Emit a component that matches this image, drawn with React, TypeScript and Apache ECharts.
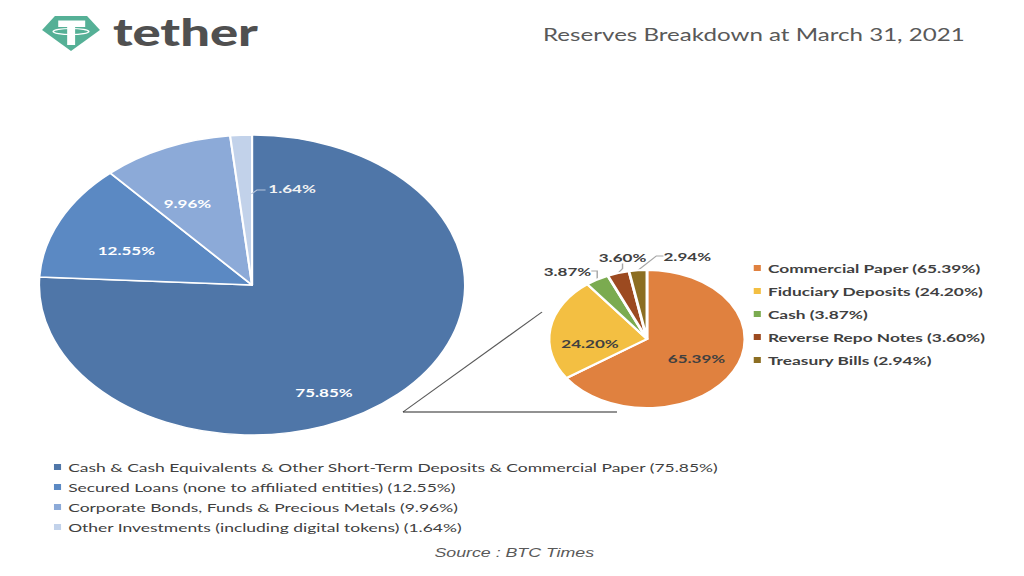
import React, { useEffect, useRef } from "react";
import * as echarts from "echarts";

// ---------- data ----------
const reserveNames = [
  "Cash & Cash Equivalents & Other Short-Term Deposits & Commercial Paper",
  "Secured Loans (none to affiliated entities)",
  "Corporate Bonds, Funds & Precious Metals",
  "Other Investments (including digital tokens)",
];
const reserveValues = [75.85, 12.55, 9.96, 1.64];

const cashNames = [
  "Commercial Paper",
  "Fiduciary Deposits",
  "Cash",
  "Reverse Repo Notes",
  "Treasury Bills",
];
const cashValues = [65.39, 24.2, 3.87, 3.6, 2.94];

const titleText = "Reserves Breakdown at March 31, 2021";
const sourceText = "Source : BTC Times";
const brandText = "tether";

// ---------- styles / layout ----------
const SX = 1.42; // the reference is horizontally stretched
const INNER_W = Math.round(1024 / SX);
const H = 576;

const reserveColors = ["#4F76A8", "#5B89C3", "#8CAAD8", "#C2D2EA"];
const cashColors = ["#E0813F", "#F3BF42", "#7BAB50", "#9C4A20", "#8C6E22"];

const BIG_C = [177.5, 285];
const BIG_R = 150;
const SMALL_C = [455.6, 339];
const SMALL_R = 69;

// label anchor offsets relative to each pie centre
const bigLabelOffsets = [
  [50.7, 107],
  [-88.5, -35],
  [-45.5, -82],
  [28.2, -97],
];
const smallLabelOffsets = [
  [34.9, 19],
  [-40.1, 4],
  [-56, -68],
  [-17.2, -81.5],
  [28.4, -83],
];
// short leader for the thin 1.64% slice, relative to the big pie centre
const thinSliceLeader = [
  [-0.5, -91],
  [3.5, -95],
  [9.5, -95],
];

const FONT = "Lato, 'Open Sans', sans-serif";

export default function App() {
  const ref = useRef<HTMLDivElement>(null);

  useEffect(() => {
    if (!ref.current) return;
    const chart = echarts.init(ref.current, null, { renderer: "svg" });

    const valueOf: Record<string, number> = {};
    reserveNames.forEach((n, i) => (valueOf[n] = reserveValues[i]));
    cashNames.forEach((n, i) => (valueOf[n] = cashValues[i]));
    const legendFmt = (name: string) => `${name} (${valueOf[name].toFixed(2)}%)`;
    const pctFmt = (p: any) => `${Number(p.value).toFixed(2)}%`;

    const bigData = reserveNames.map((name, i) => ({
      name,
      value: reserveValues[i],
      itemStyle: { color: reserveColors[i] },
      label: { color: i === 3 ? "#F2F2F2" : "#FFFFFF" },
    }));

    const smallData = cashNames.map((name, i) => {
      const outside = i >= 2;
      return {
        name,
        value: cashValues[i],
        itemStyle: { color: cashColors[i] },
        label: { position: outside ? "outside" : "inside" },
        labelLine: {
          show: outside,
          length: 5,
          length2: 5,
          lineStyle: { color: "#A6A6A6", width: 1 },
        },
      };
    });

    const legendBase = {
      orient: "vertical",
      icon: "rect",
      itemWidth: 5,
      itemHeight: 6,
      padding: 0,
      selectedMode: false,
      formatter: legendFmt,
      itemStyle: { borderWidth: 0 },
    };

    const option: any = {
      animation: false,
      backgroundColor: "#FFFFFF",
      legend: [
        {
          ...legendBase,
          data: reserveNames,
          left: 38,
          top: 460,
          itemGap: 6,
          textStyle: {
            fontFamily: FONT,
            fontSize: 12.3,
            lineHeight: 14,
            color: "#404040",
          },
        },
        {
          ...legendBase,
          data: cashNames,
          left: 530.8,
          top: 261,
          itemGap: 9,
          textStyle: {
            fontFamily: FONT,
            fontSize: 12.2,
            fontWeight: "bold",
            lineHeight: 14,
            color: "#404040",
          },
        },
      ],
      series: [
        {
          type: "pie",
          center: BIG_C,
          radius: BIG_R,
          startAngle: 90,
          clockwise: true,
          avoidLabelOverlap: false,
          itemStyle: { borderColor: "#FFFFFF", borderWidth: 1.5 },
          label: {
            show: true,
            position: "inside",
            formatter: pctFmt,
            fontFamily: FONT,
            fontSize: 12,
            fontWeight: "bold",
          },
          labelLine: { show: false },
          emphasis: { disabled: true },
          labelLayout: (p: any) => {
            const o = bigLabelOffsets[p.dataIndex];
            return {
              x: BIG_C[0] + o[0],
              y: BIG_C[1] + o[1],
              align: "center",
              verticalAlign: "middle",
            };
          },
          data: bigData,
        },
        {
          type: "pie",
          center: SMALL_C,
          radius: SMALL_R,
          startAngle: 90,
          clockwise: true,
          avoidLabelOverlap: false,
          itemStyle: { borderColor: "#FFFFFF", borderWidth: 2 },
          label: {
            show: true,
            formatter: pctFmt,
            fontFamily: FONT,
            fontSize: 12,
            fontWeight: "bold",
            color: "#404040",
          },
          emphasis: { disabled: true },
          labelLayout: (p: any) => {
            const o = smallLabelOffsets[p.dataIndex];
            return {
              x: SMALL_C[0] + o[0],
              y: SMALL_C[1] + o[1],
              align: "center",
              verticalAlign: "middle",
            };
          },
          data: smallData,
        },
      ],
      graphic: [
        // logo mark
        {
          type: "polygon",
          shape: {
            points: [
              [38.7, 16],
              [61.3, 16],
              [70.4, 30],
              [50, 51],
              [29.6, 30],
            ],
          },
          style: { fill: "#55B096" },
        },
        {
          type: "rect",
          shape: { x: 41, y: 20.5, width: 19, height: 6.5 },
          style: { fill: "#FFFFFF" },
        },
        {
          type: "rect",
          shape: { x: 47.3, y: 26, width: 5.6, height: 19 },
          style: { fill: "#FFFFFF" },
        },
        {
          type: "ellipse",
          shape: { cx: 50, cy: 31.5, rx: 12.5, ry: 3 },
          style: { fill: "none", stroke: "#FFFFFF", lineWidth: 1.2 },
        },
        {
          type: "text",
          x: 79.5,
          y: 32,
          style: {
            text: brandText,
            fontFamily: FONT,
            fontSize: 37,
            fontWeight: 900,
            fill: "#505050",
            verticalAlign: "middle",
            align: "left",
          },
        },
        {
          type: "text",
          x: 382.4,
          y: 34,
          style: {
            text: titleText,
            fontFamily: FONT,
            fontSize: 17,
            fill: "#595959",
            verticalAlign: "middle",
            align: "left",
          },
        },
        {
          type: "text",
          x: 306,
          y: 553,
          style: {
            text: sourceText,
            fontFamily: "'Liberation Sans', Arial, sans-serif",
            fontSize: 12.5,
            fontStyle: "italic",
            fill: "#595959",
            verticalAlign: "middle",
            align: "left",
          },
        },
        // leader for the thin 1.64% slice label
        {
          type: "polyline",
          z: 100,
          shape: {
            points: thinSliceLeader.map((pt) => [BIG_C[0] + pt[0], BIG_C[1] + pt[1]]),
          },
          style: { stroke: "#B8C6DC", lineWidth: 1, fill: "none" },
        },
        // connector lines between the pies
        {
          type: "line",
          shape: { x1: 283.8, y1: 412, x2: 381.7, y2: 312 },
          style: { stroke: "#595959", lineWidth: 1 },
        },
        {
          type: "line",
          shape: { x1: 283.8, y1: 412, x2: 434.5, y2: 412 },
          style: { stroke: "#262626", lineWidth: 1 },
        },
      ],
    };

    chart.setOption(option);
    return () => chart.dispose();
  }, []);

  return (
    <div
      style={{
        position: "fixed",
        left: 0,
        top: 0,
        width: 1024,
        height: H,
        overflow: "hidden",
        background: "#FFFFFF",
      }}
    >
      <div
        ref={ref}
        style={{
          width: INNER_W,
          height: H,
          transform: `scaleX(${SX})`,
          transformOrigin: "0 0",
        }}
      />
    </div>
  );
}
